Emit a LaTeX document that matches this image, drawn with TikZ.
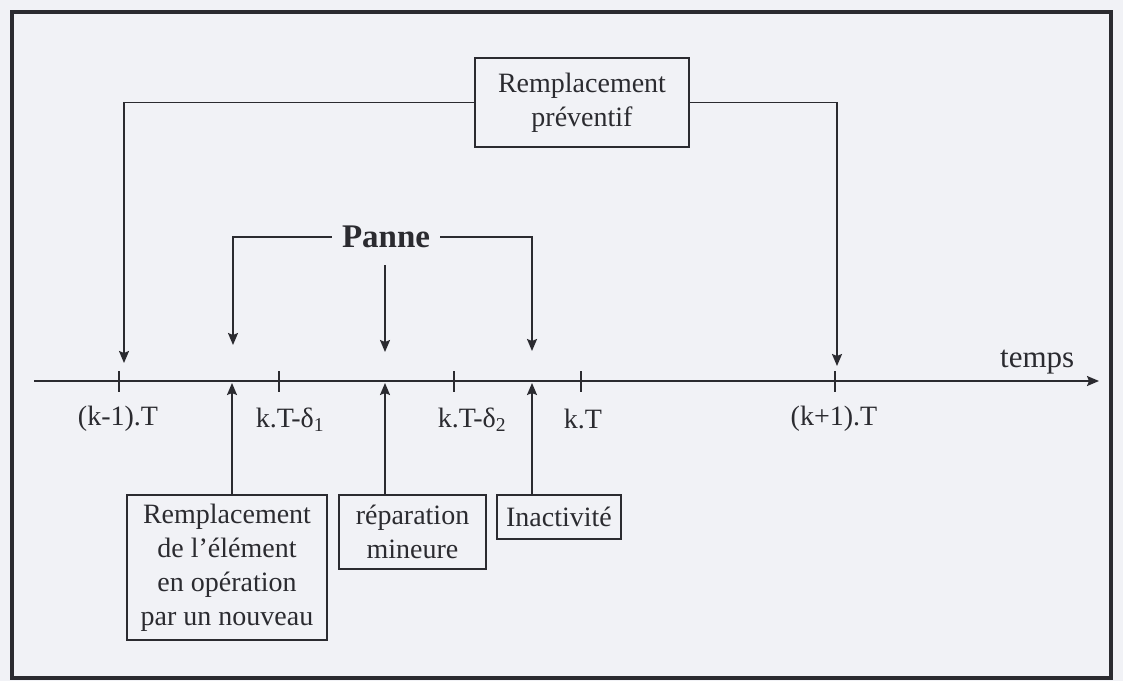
\documentclass[tikz,border=0pt]{standalone}
\usepackage{fontspec}
\setmainfont{Liberation Serif}
\usetikzlibrary{arrows.meta}
\definecolor{ink}{HTML}{2B2B30}
\definecolor{paper}{HTML}{F1F2F6}
\begin{document}
\begin{tikzpicture}[x=1pt,y=-1pt,
  every node/.style={text=ink},
  lbl/.style={font=\fontsize{28}{34}\selectfont, inner sep=0pt},
  boxnode/.style={draw=ink, line width=1.8pt, font=\fontsize{28}{34}\selectfont,
                  align=center, inner sep=0pt},
  conn/.style={draw=ink, line width=1.8pt},
  arr/.style={conn, -{Stealth[length=12pt,width=10pt,inset=2pt]}},
]
% page and outer frame
\fill[paper] (0,0) rectangle (1123,681);
\useasboundingbox (0,0) rectangle (1123,681);
\draw[ink, line width=3.5pt] (12,12) rectangle (1111,678);

% preventive replacement, feeding both period ends
\node[boxnode, minimum width=214pt, minimum height=89pt] (prev) at (582,102.5)
  {Remplacement\\préventif};
\coordinate (tlEnd) at (124,363);
\coordinate (trEnd) at (837,366);
\draw[arr] (prev.west) -| (tlEnd);
\draw[arr] (prev.east) -| (trEnd);

% time axis
\coordinate (axL) at (34,381);
\coordinate (axR) at (1099,381);
\draw[arr] (axL) -- (axR);
\node[lbl, anchor=base west, font=\fontsize{31}{36}\selectfont] (tm) at (1000,367) {temps};

% ticks on the axis
\foreach \tx in {119,279,454,581,835}
  \draw[conn] (\tx,371) -- (\tx,392);

% tick labels
\node[lbl] (t0) at (118,419) {(k-1).T};
\node[lbl] (t1) at (290,420) {k.T-δ\textsubscript{1}};
\node[lbl] (t2) at (472,420) {k.T-δ\textsubscript{2}};
\node[lbl] (t3) at (583,419) {k.T};
\node[lbl] (t4) at (834,419) {(k+1).T};

% failure and its three arrows
\node[inner sep=0pt, font=\bfseries\fontsize{33}{40}\selectfont] (panne) at (386,237) {Panne};
\coordinate (pl) at (233,345);
\coordinate (pr) at (532,351);
\coordinate (pm0) at (385,265);
\coordinate (pm1) at (385,352);
\draw[arr] ([xshift=-10pt]panne.west) -| (pl);
\draw[arr] ([xshift=10pt]panne.east) -| (pr);
\draw[arr] (pm0) -- (pm1);

% consequences of a failure
\node[boxnode, minimum width=200pt, minimum height=145pt] (b1) at (227,567.5)
  {Remplacement\\de l’élément\\en opération\\par un nouveau};
\node[boxnode, minimum width=147pt, minimum height=74pt] (b2) at (412.5,532)
  {réparation\\mineure};
\node[boxnode, minimum width=124pt, minimum height=44pt] (b3) at (559,517)
  {Inactivité};

\coordinate (u1) at (232,383);
\coordinate (u2) at (385,383);
\coordinate (u3) at (532,383);
\draw[arr] (b1.north -| u1) -- (u1);
\draw[arr] (b2.north -| u2) -- (u2);
\draw[arr] (b3.north -| u3) -- (u3);
\end{tikzpicture}
\end{document}
